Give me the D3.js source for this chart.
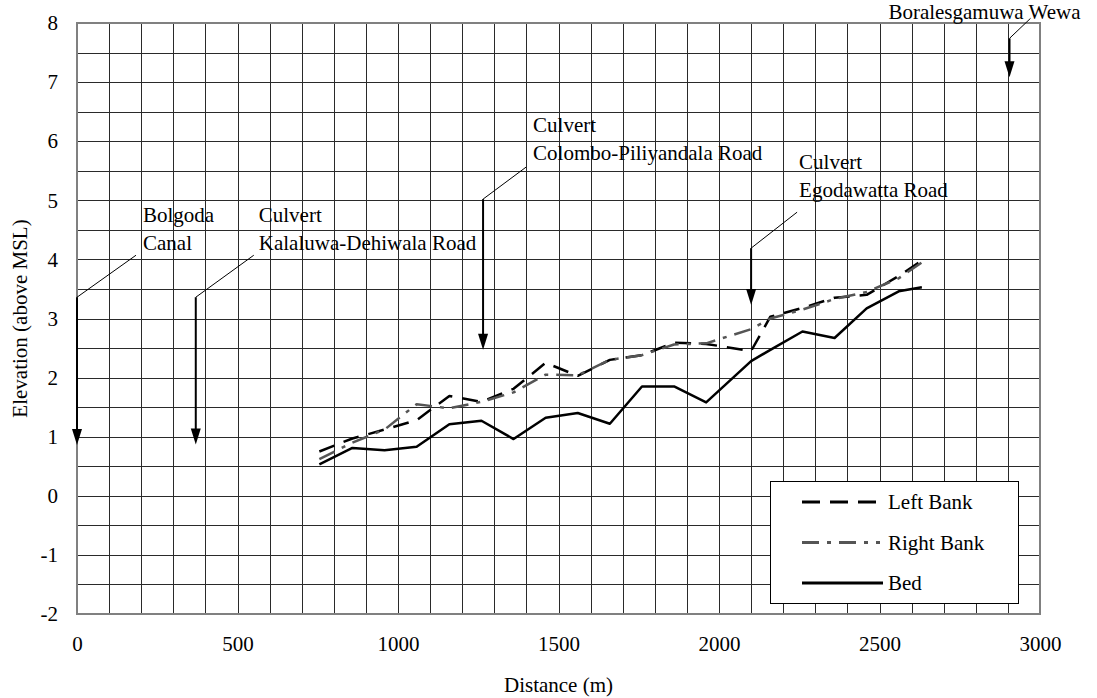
<!DOCTYPE html>
<html>
<head>
<meta charset="utf-8">
<script src="https://cdn.jsdelivr.net/npm/d3@7"></script>
<style>
  body { margin: 0; background: #fff; }
  svg text { font-family: "Liberation Serif", "Times New Roman", serif; fill: #000; }
</style>
</head>
<body>
<div id="chart"></div>
<script>
// chainage along the canal (m)
const distance = [755, 858, 958, 1058, 1160, 1260, 1360, 1460, 1560, 1660,
  1760, 1860, 1960, 2100, 2160, 2260, 2360, 2460, 2560, 2632];
const leftBank = [0.75, 0.97, 1.12, 1.28, 1.69, 1.59, 1.81, 2.25, 2.03, 2.30,
  2.38, 2.59, 2.57, 2.45, 3.03, 3.18, 3.35, 3.40, 3.72, 3.98];
const rightBank = [0.62, 0.90, 1.12, 1.55, 1.48, 1.59, 1.75, 2.05, 2.04, 2.30,
  2.38, 2.56, 2.58, 2.82, 3.00, 3.15, 3.33, 3.45, 3.68, 3.95];
const bed = [0.53, 0.81, 0.77, 0.83, 1.21, 1.27, 0.96, 1.32, 1.40, 1.22,
  1.85, 1.85, 1.58, 2.28, 2.47, 2.78, 2.67, 3.17, 3.46, 3.53];

const xTicks = [0, 500, 1000, 1500, 2000, 2500, 3000];
const yTicks = [-2, -1, 0, 1, 2, 3, 4, 5, 6, 7, 8];
const seriesNames = ["Left Bank", "Right Bank", "Bed"];

// structures marked along the profile
const markLabels = [
  ["Bolgoda", "Canal"],
  ["Culvert", "Kalaluwa-Dehiwala Road"],
  ["Culvert", "Colombo-Piliyandala Road"],
  ["Culvert", "Egodawatta Road"],
  ["Boralesgamuwa Wewa"]
];
const markDistance = [0, 370, 1265, 2100, 2905];
const markTop = [3.36, 3.36, 5.02, 4.19, 7.74];
const markTip = [0.86, 0.87, 2.47, 3.23, 7.08];

// leader line offsets and text placement (px)
const markLayout = [
  {dx: 59, dy: -42, tx: 7, ty: -5, anchor: "start"},
  {dx: 58, dy: -42, tx: 5, ty: -5, anchor: "start"},
  {dx: 43, dy: -32, tx: 7, ty: -7, anchor: "start"},
  {dx: 46, dy: -36, tx: 2, ty: -15, anchor: "start"},
  {dx: 21, dy: -20, tx: 50, ty: 1, anchor: "end"}
];

const width = 1097, height = 698;
const margin = {left: 77, top: 23, right: 57, bottom: 84};
const w = width - margin.left - margin.right;
const h = height - margin.top - margin.bottom;
const fontSize = "21px";

const svg = d3.select("#chart").append("svg")
  .attr("width", width)
  .attr("height", height);
const plot = svg.append("g")
  .attr("transform", `translate(${margin.left},${margin.top})`);

const x = d3.scaleLinear().domain([0, 3000]).range([0, w]);
const y = d3.scaleLinear().domain([-2, 8]).range([h, 0]);

// grid
plot.append("g").selectAll("line")
  .data(d3.range(100, 3000, 100))
  .enter().append("line")
  .attr("x1", d => Math.round(x(d)) + 0.5)
  .attr("x2", d => Math.round(x(d)) + 0.5)
  .attr("y1", 0).attr("y2", h)
  .attr("stroke", "#2a2a2a").attr("stroke-width", 1);
plot.append("g").selectAll("line")
  .data(d3.range(-1.5, 8, 0.5))
  .enter().append("line")
  .attr("y1", d => Math.round(y(d)) + 0.5)
  .attr("y2", d => Math.round(y(d)) + 0.5)
  .attr("x1", 0).attr("x2", w)
  .attr("stroke", "#2a2a2a").attr("stroke-width", 1);

// axes (labels only)
const xAxis = plot.append("g")
  .attr("transform", `translate(0,${h})`)
  .call(d3.axisBottom(x).tickValues(xTicks).tickFormat(d => String(d))
    .tickSize(0).tickPadding(22));
const yAxis = plot.append("g")
  .call(d3.axisLeft(y).tickValues(yTicks).tickFormat(d => String(d))
    .tickSize(0).tickPadding(19));
[xAxis, yAxis].forEach(a => {
  a.attr("font-family", null).attr("font-size", null);
  a.select(".domain").remove();
  a.selectAll("text")
    .style("font-family", '"Liberation Serif", serif')
    .style("font-size", fontSize)
    .attr("fill", "#000");
});

svg.append("text")
  .attr("x", margin.left + w / 2)
  .attr("y", 692)
  .attr("text-anchor", "middle")
  .style("font-size", fontSize)
  .text("Distance (m)");
svg.append("text")
  .attr("transform", `translate(27,${margin.top + h / 2}) rotate(-90)`)
  .attr("text-anchor", "middle")
  .style("font-size", fontSize)
  .text("Elevation (above MSL)");

// series
const styles = [
  {stroke: "#000", dash: "16,10", width: 2.5},
  {stroke: "#555", dash: "17,8,4,8", width: 2.5},
  {stroke: "#000", dash: null, width: 2.5}
];
const seriesData = [leftBank, rightBank, bed];
const line = d3.line()
  .x((d, i) => x(distance[i]))
  .y(d => y(d));
seriesData.forEach((vals, i) => {
  plot.append("path")
    .datum(vals)
    .attr("d", line)
    .attr("fill", "none")
    .attr("stroke", styles[i].stroke)
    .attr("stroke-width", styles[i].width)
    .attr("stroke-dasharray", styles[i].dash)
    .attr("stroke-linejoin", "round");
});

// plot border
plot.append("rect")
  .attr("width", w).attr("height", h)
  .attr("fill", "none")
  .attr("stroke", "#808080").attr("stroke-width", 2);

// structure markers
markLabels.forEach((lines, i) => {
  const lay = markLayout[i];
  const mx = x(markDistance[i]);
  const top = y(markTop[i]);
  const tip = y(markTip[i]);
  const g = plot.append("g");
  g.append("line")
    .attr("x1", mx).attr("y1", top)
    .attr("x2", mx + lay.dx).attr("y2", top + lay.dy)
    .attr("stroke", "#000").attr("stroke-width", 1);
  g.append("line")
    .attr("x1", mx).attr("y1", top)
    .attr("x2", mx).attr("y2", tip - 12)
    .attr("stroke", "#000").attr("stroke-width", 2);
  g.append("path")
    .attr("d", `M${mx - 5},${tip - 16}L${mx + 5},${tip - 16}L${mx},${tip}Z`)
    .attr("fill", "#000");
  const tx = mx + lay.dx + lay.tx;
  const ty = top + lay.dy + lay.ty;
  lines.forEach((t, j) => {
    g.append("text")
      .attr("x", tx)
      .attr("y", ty - (lines.length - 1 - j) * 28)
      .attr("text-anchor", lay.anchor)
      .style("font-size", fontSize)
      .text(t);
  });
});

// legend
const legend = svg.append("g").attr("transform", "translate(770,481)");
legend.append("rect")
  .attr("x", 0.5).attr("y", 0.5)
  .attr("width", 248).attr("height", 122)
  .attr("fill", "#fff")
  .attr("stroke", "#000").attr("stroke-width", 1);
seriesNames.forEach((name, i) => {
  const ly = 21 + i * 40.5;
  legend.append("line")
    .attr("x1", 32).attr("x2", i === 2 ? 113 : 110)
    .attr("y1", ly).attr("y2", ly)
    .attr("stroke", styles[i].stroke)
    .attr("stroke-width", 3)
    .attr("stroke-dasharray", i === 0 ? "18,10" : styles[i].dash);
  legend.append("text")
    .attr("x", 118).attr("y", ly)
    .attr("dy", "0.35em")
    .style("font-size", fontSize)
    .text(name);
});
</script>
</body>
</html>
